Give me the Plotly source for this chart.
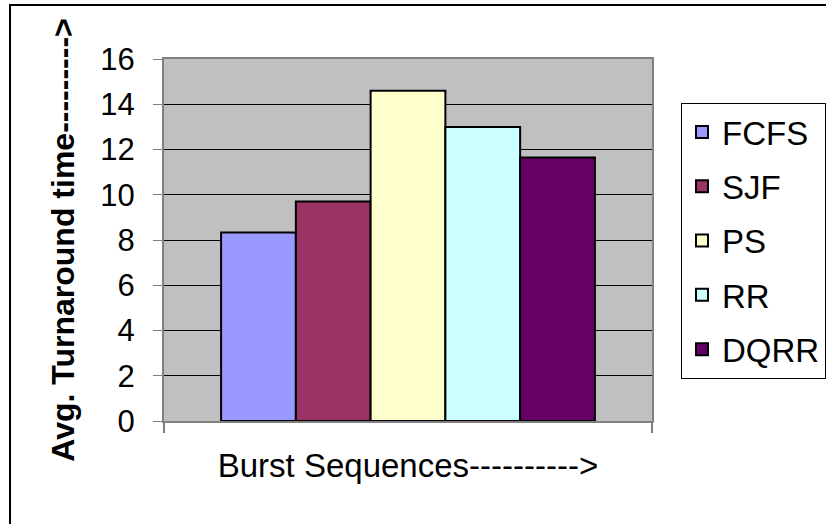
import plotly.graph_objects as go

category = [" "]
series_names = ["FCFS", "SJF", "PS", "RR", "DQRR"]
series_values = [8.33, 9.7, 14.6, 13.0, 11.65]
series_colors = ["#9999FF", "#993366", "#FFFFCC", "#CCFFFF", "#660066"]
y_ticks = [0, 2, 4, 6, 8, 10, 12, 14, 16]

W, H = 826, 524
L, R, T, B = 164, 174, 59, 103
pw, ph = W - L - R, H - T - B

def px_x(x):
    return (x - L) / pw

def px_y(y):
    return (H - B - y) / ph

FONT = "Liberation Sans, Arial, sans-serif"
FS = 33

fig = go.Figure()
for name, val, col in zip(series_names, series_values, series_colors):
    fig.add_trace(go.Bar(
        x=category, y=[val], name=name, legendgroup=name,
        marker=dict(color=col, line=dict(color="black", width=2)),
    ))

fig.update_layout(
    width=W, height=H,
    margin=dict(l=L, r=R, t=T, b=B, pad=0, autoexpand=False),
    paper_bgcolor="white", plot_bgcolor="#C0C0C0",
    barmode="group", bargap=0.234, bargroupgap=0,
    font=dict(family=FONT, size=FS, color="black"),
    showlegend=True,
    legend=dict(
        x=px_x(681), xanchor="left", y=px_y(103), yanchor="top",
        bordercolor="black", borderwidth=1, bgcolor="white",
        font=dict(size=FS), tracegroupgap=8.4, traceorder="grouped",
    ),
    xaxis=dict(
        showticklabels=False, tickson="boundaries", ticks="outside",
        ticklen=10, tickcolor="#808080", tickwidth=2,
        showline=True, linecolor="#808080", linewidth=2, mirror=True,
        showgrid=False, zeroline=False,
        title=dict(text="Burst Sequences---------->", font=dict(size=FS), standoff=32),
    ),
    yaxis=dict(
        range=[0, 16], tickvals=y_ticks, ticktext=[str(v) for v in y_ticks],
        ticks="outside", ticklen=9, tickcolor="#808080", tickwidth=1,
        showline=True, linecolor="#808080", linewidth=2, mirror=True,
        showgrid=True, gridcolor="black", gridwidth=1, zeroline=False,
        ticklabelstandoff=12, tickfont=dict(size=31),
        title=dict(text="<b>Avg. Turnaround time---------></b>", font=dict(size=32), standoff=16),
    ),
    shapes=[dict(
        type="rect", xref="paper", yref="paper",
        x0=px_x(10), x1=px_x(830), y0=px_y(530), y1=px_y(5),
        line=dict(color="black", width=2), fillcolor="rgba(0,0,0,0)", layer="above",
    )],
)

fig.write_html("out.html", config={"displayModeBar": False},
               post_script="document.body.style.margin='0';")
